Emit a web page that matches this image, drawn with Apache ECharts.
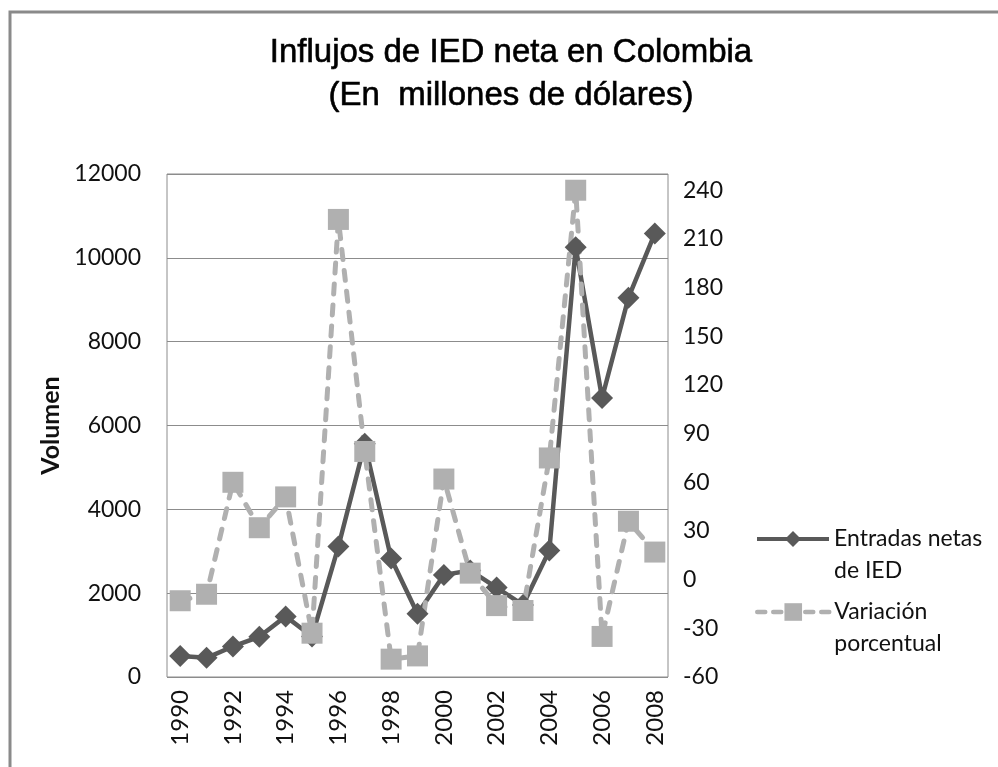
<!DOCTYPE html>
<html>
<head>
<meta charset="utf-8">
<script src="https://cdn.jsdelivr.net/npm/echarts@6/dist/echarts.min.js"></script>
<style>
  html, body { margin: 0; padding: 0; background: #fff; }
  #chart { width: 998px; height: 767px; }
</style>
</head>
<body>
<div id="chart"></div>
<script>
// Net FDI inflows into Colombia, 1990-2008 (millions of US dollars)
var years = ['1990','1991','1992','1993','1994','1995','1996','1997','1998','1999',
             '2000','2001','2002','2003','2004','2005','2006','2007','2008'];
var inflows = [500, 457, 729, 959, 1446, 968, 3112, 5562, 2829, 1508,
               2436, 2542, 2134, 1720, 3016, 10252, 6656, 9049, 10583];
// Year-on-year percentage change
var variation = [-13, -9, 60, 32, 51, -33, 222, 79, -49, -47,
                 62, 4, -16, -19, 75, 240, -35, 36, 17];

var seriesNames = ['Entradas netas de IED', 'Variación porcentual'];
var legendLabels = {
  'Entradas netas de IED': '\nEntradas netas\nde IED',
  'Variación porcentual': '\nVariación\nporcentual'
};
var leftTicks = { min: 0, max: 12000, interval: 2000 };
var rightTicks = { min: -60, max: 250, interval: 30 };

var labelFont = 'Lato';
var dark = '#595959';
var light = '#b0b0b0';
var gridColor = '#8c8c8c';

var chart = echarts.init(document.getElementById('chart'), null, { renderer: 'canvas' });

var legendText = {
  fontFamily: labelFont, fontSize: 23, color: '#111', lineHeight: 32
};

chart.setOption({
  animation: false,
  backgroundColor: '#fff',
  graphic: [
    {
      type: 'rect',
      shape: { x: 10, y: 12, width: 1100, height: 900 },
      style: { fill: 'none', stroke: '#8a8a8a', lineWidth: 3 },
      silent: true
    },
    {
      type: 'text',
      x: 511, y: 31,
      style: {
        text: 'Influjos de IED neta en Colombia\n(En  millones de dólares)',
        font: '33px "Liberation Sans", Arial, sans-serif',
        fill: '#000',
        stroke: '#000',
        lineWidth: 0.6,
        align: 'center',
        verticalAlign: 'top',
        lineHeight: 43
      }
    }
  ],
  legend: [
    {
      data: [seriesNames[0]],
      left: 755, top: 491, padding: 0,
      itemWidth: 72, itemHeight: 20,
      formatter: function (n) { return legendLabels[n]; },
      textStyle: legendText,
      lineStyle: { width: 4 },
      selectedMode: false
    },
    {
      data: [seriesNames[1]],
      left: 755, top: 564, padding: 0,
      itemWidth: 72, itemHeight: 22,
      formatter: function (n) { return legendLabels[n]; },
      textStyle: legendText,
      lineStyle: { width: 4.5, type: [8, 8] },
      selectedMode: false
    }
  ],
  grid: {
    left: 167, top: 174, right: 330, bottom: 90,
    show: true, borderColor: gridColor, borderWidth: 1,
    backgroundColor: 'transparent'
  },
  xAxis: {
    type: 'category',
    data: years,
    boundaryGap: true,
    axisLine: { show: false },
    axisTick: { show: false },
    axisLabel: {
      interval: 1, rotate: 90, margin: 13,
      fontFamily: labelFont, fontSize: 24, color: '#111'
    }
  },
  yAxis: [
    {
      type: 'value',
      min: leftTicks.min, max: leftTicks.max, interval: leftTicks.interval,
      name: 'Volumen',
      nameLocation: 'middle',
      nameGap: 103,
      nameRotate: 90,
      nameTextStyle: { fontFamily: labelFont, fontSize: 25, fontWeight: 'bold', color: '#111' },
      axisLine: { show: false },
      axisTick: { show: false },
      axisLabel: {
        margin: 26, fontFamily: labelFont, fontSize: 23, color: '#111',
        formatter: function (v) { return String(v); }
      },
      splitLine: { show: true, lineStyle: { color: gridColor, width: 1 } }
    },
    {
      type: 'value',
      position: 'right',
      min: rightTicks.min, max: rightTicks.max, interval: rightTicks.interval,
      axisLine: { show: false },
      axisTick: { show: false },
      axisLabel: { margin: 15, fontFamily: labelFont, fontSize: 23, color: '#111', showMaxLabel: false },
      splitLine: { show: false }
    }
  ],
  series: [
    {
      name: seriesNames[0],
      type: 'line',
      yAxisIndex: 0,
      data: inflows,
      symbol: 'diamond',
      symbolSize: 22,
      showAllSymbol: true,
      lineStyle: { color: dark, width: 4.5 },
      itemStyle: { color: dark }
    },
    {
      name: seriesNames[1],
      type: 'line',
      yAxisIndex: 1,
      data: variation,
      symbol: 'rect',
      symbolSize: 21,
      showAllSymbol: true,
      lineStyle: { color: light, width: 5, type: [10, 11], cap: 'round' },
      itemStyle: { color: light }
    }
  ]
});
</script>
</body>
</html>
